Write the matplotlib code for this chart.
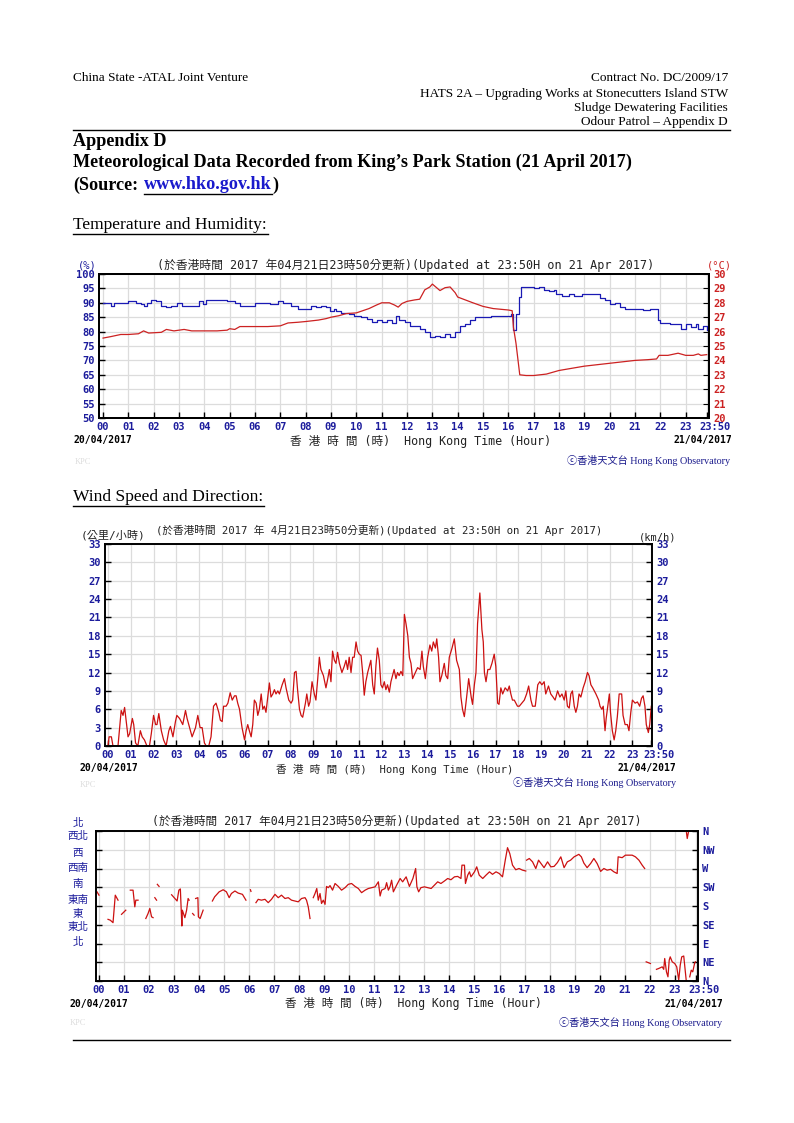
import numpy as np
import matplotlib
matplotlib.use("Agg")
import matplotlib.pyplot as plt
from matplotlib.lines import Line2D

nan = np.nan

# ---- data ----
# humidity (%), left axis of chart 1
hum_t = [0.0, 0.3, 0.45, 0.6, 1.0, 1.3, 1.5, 1.6, 1.75, 1.9, 2.1, 2.3, 2.5, 2.7, 2.9, 3.1, 3.5, 3.8, 3.95, 4.05,
         4.5, 4.9, 5.2, 5.4, 5.8, 6.0, 6.3, 6.6, 6.9, 7.1, 7.4, 7.7, 8.0, 8.2, 8.4, 8.6, 8.8, 8.95, 9.1, 9.2,
         9.4, 9.7, 9.9, 10.2, 10.4, 10.6, 10.8, 11.0, 11.2, 11.4, 11.55, 11.7, 11.9, 12.1, 12.3, 12.5, 12.7, 12.9, 13.1, 13.3,
         13.5, 13.7, 13.9, 14.1, 14.3, 14.5, 14.7, 15.0, 15.3, 15.6, 15.9, 16.1, 16.2, 16.3, 16.4, 16.5, 16.8, 17.0, 17.2, 17.4,
         17.6, 17.8, 17.9, 18.1, 18.4, 18.6, 18.9, 19.2, 19.4, 19.6, 19.8, 20.0, 20.2, 20.4, 20.6, 20.9, 21.1, 21.3, 21.6, 21.8,
         21.9, 22.0, 22.2, 22.4, 22.6, 22.8, 23.0, 23.2, 23.4, 23.5, 23.7, 23.83]
hum = [90, 89, 90, 90, 90.5, 90, 89.5, 89, 90, 91, 90.5, 89, 88.5, 89, 90, 89, 89, 90.5, 89.5, 91,
       91, 90.5, 90, 89, 89, 90, 90, 89.5, 90.5, 90, 89, 88, 88, 89, 88.5, 89, 88.5, 87, 88, 87,
       86.5, 86, 85.5, 85, 84.5, 83.5, 84, 83.5, 84, 83, 85.5, 84, 83.5, 82, 82, 81, 80, 78, 78.5, 78,
       79, 78, 80, 82, 82.5, 84, 85, 85, 85.5, 85.5, 85.5, 86, 80.5, 86, 92, 95.5, 95.5, 95, 95.5, 94.5,
       94, 94.5, 93, 92.5, 93, 92.5, 93, 93, 93, 91.5, 91, 89.5, 90, 88.5, 88, 88, 88, 87.5, 88, 88,
       84, 83, 83, 82.5, 82.5, 81, 82.5, 81.5, 82.5, 81, 82, 80.5]

# temperature (deg C), right axis of chart 1
temp_t = [0.0, 0.3, 0.7, 1.0, 1.4, 1.6, 1.8, 2.3, 2.5, 2.8, 3.2, 3.5, 4.0, 4.5, 4.9, 5.0, 5.2, 5.4, 6.0, 6.5,
          7.0, 7.3, 7.7, 8.0, 8.5, 8.8, 9.0, 9.3, 9.6, 10.0, 10.5, 10.8, 11.0, 11.3, 11.5, 11.65, 11.8, 12.0, 12.3, 12.5,
          12.7, 12.9, 13.0, 13.2, 13.3, 13.5, 13.7, 13.9, 14.0, 14.3, 14.6, 15.0, 15.4, 15.7, 16.0, 16.15, 16.2, 16.3, 16.45, 16.7,
          17.0, 17.5, 18.0, 18.5, 19.0, 19.5, 20.0, 20.5, 21.0, 21.5, 21.85, 21.95, 22.3, 22.7, 23.0, 23.3, 23.5, 23.6, 23.83]
temp = [25.55, 25.65, 25.8, 25.8, 25.85, 26.05, 25.9, 25.95, 26.15, 26.05, 26.15, 26.05, 26.05, 26.05, 26.1, 26.2, 26.15, 26.35, 26.35, 26.35,
        26.4, 26.6, 26.65, 26.7, 26.8, 26.9, 27.0, 27.1, 27.25, 27.3, 27.6, 27.85, 28.0, 28.0, 27.85, 27.7, 27.95, 28.1, 28.2, 28.25,
        28.9, 29.1, 29.3, 29.0, 28.85, 29.05, 29.1, 28.7, 28.4, 28.2, 28.0, 27.75, 27.6, 27.55, 27.5, 27.45, 26.3, 25.2, 23.0, 22.95,
        22.95, 23.05, 23.3, 23.45, 23.6, 23.7, 23.8, 23.9, 24.0, 24.05, 24.1, 24.35, 24.35, 24.5, 24.35, 24.35, 24.45, 24.35, 24.4]

# wind speed (km/h)
ws_t = [0.0, 0.05, 0.15, 0.22, 0.44, 0.51, 0.58, 0.66, 0.73, 0.8, 0.88, 0.95, 1.07, 1.13, 1.21, 1.31, 1.42, 1.5, 1.6, 1.71,
        1.82, 1.9, 2.0, 2.09, 2.15, 2.23, 2.34, 2.44, 2.55, 2.67, 2.74, 2.85, 2.96, 3.02, 3.14, 3.21, 3.28, 3.4, 3.47, 3.58,
        3.69, 3.84, 3.94, 4.04, 4.13, 4.23, 4.31, 4.42, 4.52, 4.63, 4.74, 4.86, 4.93, 5.01, 5.07, 5.18, 5.26, 5.36, 5.45, 5.55,
        5.62, 5.69, 5.77, 5.88, 5.99, 6.06, 6.13, 6.2, 6.28, 6.35, 6.42, 6.5, 6.57, 6.64, 6.72, 6.79, 6.86, 6.93, 7.01, 7.08,
        7.15, 7.23, 7.3, 7.37, 7.45, 7.52, 7.64, 7.74, 7.81, 7.93, 8.03, 8.1, 8.18, 8.25, 8.32, 8.4, 8.47, 8.54, 8.66, 8.72,
        8.8, 8.86, 8.95, 9.05, 9.12, 9.2, 9.27, 9.34, 9.45, 9.56, 9.64, 9.71, 9.78, 9.85, 9.93, 10.0, 10.07, 10.15, 10.26, 10.36,
        10.44, 10.51, 10.58, 10.66, 10.73, 10.8, 10.88, 10.95, 11.02, 11.1, 11.17, 11.24, 11.31, 11.39, 11.46, 11.53, 11.61, 11.68, 11.75, 11.82,
        11.9, 11.97, 12.04, 12.12, 12.19, 12.26, 12.34, 12.41, 12.48, 12.55, 12.63, 12.7, 12.77, 12.85, 12.93, 13.0, 13.07, 13.15, 13.22, 13.29,
        13.36, 13.48, 13.58, 13.69, 13.77, 13.83, 13.92, 14.02, 14.12, 14.2, 14.27, 14.36, 14.42, 14.5, 14.56, 14.64, 14.75, 14.82, 14.9, 14.97,
        15.09, 15.19, 15.29, 15.41, 15.48, 15.55, 15.63, 15.7, 15.82, 15.93, 15.99, 16.07, 16.14, 16.21, 16.31, 16.4, 16.46, 16.51, 16.58, 16.66,
        16.75, 16.84, 16.94, 17.01, 17.09, 17.15, 17.23, 17.31, 17.42, 17.53, 17.6, 17.67, 17.74, 17.82, 17.96, 18.04, 18.15, 18.26, 18.36, 18.45,
        18.55, 18.62, 18.74, 18.85, 18.94, 19.03, 19.13, 19.2, 19.32, 19.42, 19.52, 19.61, 19.72, 19.82, 19.91, 20.01, 20.08, 20.15, 20.23, 20.3,
        20.37, 20.45, 20.52, 20.59, 20.66, 20.74, 20.84, 20.93, 21.03, 21.1, 21.18, 21.26, 21.4, 21.52, 21.58, 21.66, 21.72, 21.8, 21.85, 21.99,
        22.04, 22.12, 22.2, 22.27, 22.34, 22.42, 22.53, 22.59, 22.68, 22.78, 22.85, 22.93, 23.0, 23.12, 23.22, 23.32, 23.4, 23.47, 23.55, 23.61,
        23.7, 23.76, 23.83]
ws = [0, 1.5, 1.5, 0, 0, 3, 5.8, 5, 6.3, 4, 1.5, 2, 4.5, 3.5, 0.5, 0, 2.5, 1.5, 1, 0,
      0, 2, 5, 3.5, 3.5, 5.3, 2.5, 1, 0, 2.5, 3.2, 1.5, 4, 5, 4.5, 4, 3.5, 5.8, 4.5, 3,
      1.5, 3, 5, 3, 3, 0.5, 0, 0, 1.5, 6.5, 7, 5.5, 4.2, 4, 6.5, 6.5, 7, 8.7, 7.5, 8.2,
      8.2, 7, 6, 3, 1, 2.5, 3.5, 2.5, 1.5, 3.5, 7.5, 7, 5, 6, 8.5, 6, 6.5, 5.5, 8, 10.3,
      8, 8.5, 9.2, 8.5, 9, 8.5, 10, 11, 9.5, 7.5, 7, 7.5, 12, 12.2, 9, 6, 5, 4.7, 7, 8.5,
      6.5, 7.2, 10.5, 8.5, 7.5, 11, 14.5, 12.5, 11.5, 9.5, 11, 12.5, 10.5, 15.5, 14, 13.5, 15.3, 13.5, 12, 13,
      14, 12.5, 14.5, 12, 14.5, 14.5, 17, 15.5, 15, 14.8, 12, 8.3, 10.5, 12, 13, 14, 10, 8.5, 13, 16,
      14, 10, 9.5, 10.5, 9.2, 10, 8.8, 10.5, 11.5, 12.5, 11, 12, 11.5, 12.2, 11.5, 21.5, 20, 18, 14.5, 13.5,
      11, 12, 12.8, 12.5, 15.5, 13, 11, 14.5, 16.5, 15.5, 17, 16, 17.5, 14.5, 10.5, 11.5, 13.5, 11.5, 11, 14.5,
      16, 17.5, 14, 12.5, 8, 6, 4.8, 7, 11, 8, 6.8, 10, 12, 20, 25, 19, 17, 12, 10.5, 12.5,
      12.5, 13.5, 15, 13, 7, 6.8, 9.5, 8.5, 9.5, 9, 9.8, 8.5, 7.5, 7.5, 6.5, 6.5, 7, 7.5, 8.5, 9.8,
      7.5, 6.5, 6.5, 10, 10.5, 10, 10.5, 8.5, 9.8, 8.5, 8, 7.5, 9, 8, 8.5, 7.5, 9, 6.5, 6.2, 8.5,
      9, 6.5, 5.5, 6.5, 8.5, 8, 9.5, 10.5, 12, 11.5, 10, 9.5, 8.5, 7.5, 6.5, 6, 6.5, 2.5, 4.5, 8.5,
      5.5, 2.5, 1, 2.5, 4.8, 8.5, 8.5, 5, 3.5, 3.5, 2.5, 5.5, 7.5, 7, 7.2, 6.5, 7.8, 8.2, 6.5, 3.5,
      2.2, 3.5, 6.5]

# wind direction (degrees, 0 = N at bottom), nan = gap in the record
wd_t = [-0.08, 0.0, nan, 0.36, 0.45, 0.56, 0.6, 0.65, 0.72, 0.76, nan, 0.9, 1.07, nan,
        1.25, 1.36, 1.43, 1.47, 1.56, nan, 1.87, 1.96, 2.03, 2.1, 2.16, nan, 2.23, 2.3, nan, 2.33, 2.4, nan,
        2.9, 3.03, 3.12, 3.19, 3.25, 3.31, 3.33, 3.43, 3.5, 3.56, 3.6, nan, 3.74, 3.8, nan,
        3.86, 3.95, 3.97, 4.04, 4.16, nan,
        4.53, 4.62, 4.8, 4.96, 5.09, 5.2, 5.29, 5.43, 5.56, 5.73, 5.83, 5.87, nan, 6.05, 6.07, nan,
        6.27, 6.36, 6.49, 6.63, 6.76, 6.89, 7.03, 7.16, 7.29, 7.43, 7.56, 7.69, 7.83, 7.96, 8.09, 8.23, 8.29, 8.36, 8.43, nan,
        8.56, 8.63, 8.7, 8.76, 8.83, 8.89, 8.96, 9.03, 9.09, 9.16, 9.23, 9.33, 9.43, 9.56, 9.69, 9.83, 9.96, 10.09, 10.23, 10.36,
        10.49, 10.63, 10.76, 10.89, 11.03, 11.16, 11.23, 11.29, 11.43, 11.49, 11.56, 11.63, 11.69, 11.76, 11.89,
        12.03, 12.13, 12.27, 12.4, 12.54, 12.65, 12.7, 12.77, 12.86, 13.0, 13.13, 13.27, 13.4, 13.53, 13.66, 13.8, 13.93, 14.06, 14.2, 14.33,
        14.46, 14.5, 14.6, 14.64, 14.73, 14.8, 14.86, 15.0, 15.09, 15.19, 15.33, 15.46, 15.6, 15.72, 15.86, 15.99, 16.12, 16.23, 16.32, 16.41,
        16.52, 16.65, 16.78, 16.92, 17.05, nan,
        17.08, 17.19, 17.32, 17.45, 17.56, 17.66, 17.78, 17.92, 18.05, 18.18, 18.31, 18.45, 18.58, 18.71, 18.84, 18.98, 19.17, 19.27, 19.37, 19.5,
        19.64, 19.77, 19.9, 20.04, 20.17, 20.3, 20.44, 20.57, 20.7, 20.74, 20.9, 21.03, 21.17, 21.3, 21.43, 21.57, 21.7, 21.8, nan,
        21.86, 22.03, nan,
        22.27, 22.36, 22.5, 22.56, 22.6, 22.67, 22.73, 22.78, 22.82, 22.9, 23.0, 23.08, 23.16, 23.22, 23.28, 23.36, 23.42, 23.46, nan,
        23.47, 23.5, 23.55, nan, 23.6, 23.66, 23.72, 23.8, 23.83]
wd = [214, 206, nan, 148, 146, 140, 170, 206, 198, 194, nan, 160, 170, nan,
      218, 218, 178, 194, 194, nan, 150, 162, 174, 154, 152, nan, 200, 194, nan, 232, 227, nan,
      207, 198, 192, 218, 221, 132, 170, 152, 170, 198, 194, nan, 162, 158, nan,
      198, 200, 154, 150, 170, nan,
      192, 202, 214, 219, 214, 200, 210, 216, 211, 208, 198, 194, nan, 219, 215, nan,
      188, 196, 194, 196, 188, 196, 208, 200, 206, 198, 200, 194, 192, 190, 198, 200, 194, 178, 150, nan,
      200, 210, 222, 194, 210, 186, 194, 184, 227, 224, 229, 218, 234, 227, 218, 224, 232, 234, 227, 222,
      212, 218, 222, 224, 226, 238, 204, 218, 222, 236, 218, 227, 242, 214, 230,
      246, 238, 250, 227, 246, 270, 226, 214, 224, 226, 224, 222, 230, 238, 234, 240, 246, 243, 250, 251,
      246, 278, 278, 234, 254, 262, 250, 262, 274, 254, 246, 254, 262, 256, 262, 258, 250, 290, 320, 306,
      278, 267, 270, 266, 264, nan,
      290, 294, 286, 270, 290, 282, 272, 286, 274, 275, 284, 298, 272, 286, 290, 298, 304, 298, 283, 272,
      282, 294, 282, 263, 270, 266, 268, 262, 258, 298, 296, 302, 302, 302, 298, 290, 278, 270, nan,
      46, 42, nan,
      28, 30, 34, 28, 54, 22, 10, 50, 58, 46, 42, 34, 2, 38, 58, 60, 26, 1, nan,
      356, 342, 358, nan, 10, 26, 22, 44, 46]

hour_labels = ["%02d" % h for h in range(24)] + ["23:50"]
hour_ticks = list(range(24)) + [23 + 50 / 60]
dir_labels = ["N", "NE", "E", "SE", "S", "SW", "W", "NW", "N"]
dir_labels_zh = ["北", "西北", "西", "西南", "南", "東南", "東", "東北", "北"]

title_txt = "(於香港時間 2017 年04月21日23時50分更新)(Updated at 23:50H on 21 Apr 2017)"
title_txt2 = "(於香港時間 2017 年 4月21日23時50分更新)(Updated at 23:50H on 21 Apr 2017)"
xlabel_txt = "香 港 時 間 (時)  Hong Kong Time (Hour)"
copy_txt = "ⓒ香港天文台 Hong Kong Observatory"

W, H = 794, 1123
fig = plt.figure(figsize=(W / 100, H / 100), dpi=100)
fig.patch.set_facecolor("white")

SERIF = ["Liberation Serif", "Noto Sans CJK TC"]
MONO = ["DejaVu Sans Mono", "Noto Sans CJK TC"]
BLUE = "#1c1c9c"
RED = "#cc2222"
GRID = "#dcdcdc"


def px(x, y):
    return x / W, 1 - y / H


def put(x, y, s, **kw):
    fig.text(*px(x, y), s, **kw)


def axes_px(l, t, r, b):
    return fig.add_axes([l / W, 1 - b / H, (r - l) / W, (b - t) / H])


def hline(y, x0=73, x1=730):
    fig.add_artist(Line2D([x0 / W, x1 / W], [1 - y / H, 1 - y / H], color="black", lw=1.0))


# ---- page header ----
put(73, 78, "China State -ATAL Joint Venture", family=SERIF, size=9.5, va="center")
put(728, 78, "Contract No. DC/2009/17", family=SERIF, size=9.5, va="center", ha="right")
put(728, 94, "HATS 2A – Upgrading Works at Stonecutters Island STW", family=SERIF, size=9.5, va="center", ha="right")
put(728, 108, "Sludge Dewatering Facilities", family=SERIF, size=9.5, va="center", ha="right")
put(728, 122, "Odour Patrol – Appendix D", family=SERIF, size=9.5, va="center", ha="right")
hline(130)
put(73, 141, "Appendix D", family=SERIF, size=13.1, weight="bold", va="center")
put(73, 162, "Meteorological Data Recorded from King’s Park Station (21 April 2017)", family=SERIF, size=13.1,
    weight="bold", va="center")
put(73, 185, "(Source:", family=SERIF, size=13.1, weight="bold", va="center")
put(144, 185, "www.hko.gov.hk", family=SERIF, size=13.1, weight="bold", va="center", color="#1a1acc")
hline(194, 144, 272)
put(272, 185, ")", family=SERIF, size=13.1, weight="bold", va="center")
put(73, 225, "Temperature and Humidity:", family=SERIF, size=12.6, va="center")
hline(234, 73, 268)
put(73, 497, "Wind Speed and Direction:", family=SERIF, size=12.6, va="center")
hline(506, 73, 264)
hline(1040)


def style_axes(ax, x0, x1):
    ax.set_xlim(x0, x1)
    ax.grid(True, color=GRID, lw=0.9)
    ax.set_axisbelow(True)
    for s in ax.spines.values():
        s.set_linewidth(1.4)
        s.set_color("black")
    ax.set_xticks(hour_ticks)
    ax.set_xticklabels([])
    ax.tick_params(axis="both", direction="in", length=4, width=1, colors="black")
    ax.tick_params(axis="x", which="both", top=False)
    for h, lab in zip(hour_ticks, hour_labels):
        dx = 8 if lab == "23:50" else 0
        ax.annotate(lab, xy=(h, 0), xycoords=("data", "axes fraction"), xytext=(dx * 0.72, -3),
                    textcoords="offset points", ha="center", va="top", family=MONO, size=7.5,
                    weight="bold", color=BLUE)


# ---- chart 1: temperature and humidity ----
ax1 = axes_px(99, 274, 709, 418)
style_axes(ax1, -0.16, 23.92)
ax1.set_ylim(50, 100)
ax1.set_yticks(range(50, 101, 5))
ax1.tick_params(axis="y", labelsize=7.5, labelcolor=BLUE, pad=3)
for lab in ax1.get_yticklabels():
    lab.set_family(MONO)
    lab.set_weight("bold")
ax1.plot(hum_t, hum, color="#1a1ab4", lw=0.9, drawstyle="steps-post")
ax1b = ax1.twinx()
ax1b.set_ylim(20, 30)
ax1b.set_yticks(range(20, 31))
ax1b.tick_params(axis="y", direction="in", length=4, labelsize=7.5, labelcolor=RED, pad=3)
for lab in ax1b.get_yticklabels():
    lab.set_family(MONO)
    lab.set_weight("bold")
ax1b.plot(temp_t, temp, color=RED, lw=0.9)
for s in ax1b.spines.values():
    s.set_linewidth(1.4)

put(406, 265, title_txt, family=MONO, size=8.5, ha="center", va="center", color="#222222")
put(87, 265, "(%)", family=MONO, size=7.5, ha="center", va="center", color=BLUE)
put(719, 265, "(°C)", family=MONO, size=7.5, ha="center", va="center", color=RED)
put(74, 440, "20/04/2017", family=MONO, size=7, weight="bold", va="center")
put(732, 440, "21/04/2017", family=MONO, size=7, weight="bold", va="center", ha="right")
put(421, 441, xlabel_txt, family=MONO, size=8.4, ha="center", va="center", color="#222222")
put(75, 462, "KPC", family=SERIF, size=6, va="center", color="#dddddd")
put(730, 460, copy_txt, family=SERIF, size=7.3, ha="right", va="center", color="#1a1a8c")

# ---- chart 2: wind speed ----
ax2 = axes_px(105, 544, 652, 746)
style_axes(ax2, -0.13, 23.86)
ax2.set_ylim(0, 33)
ax2.set_yticks(range(0, 34, 3))
ax2.tick_params(axis="y", labelsize=7.5, labelcolor=BLUE, pad=3, right=True, labelright=True)
for t in ax2.yaxis.get_major_ticks():
    for lab in (t.label1, t.label2):
        lab.set_family(MONO)
        lab.set_weight("bold")
ax2.plot(ws_t, ws, color="#cc1111", lw=0.9)

put(379, 530, title_txt2, family=MONO, size=7.7, ha="center", va="center", color="#222222")
put(113, 535, "(公里/小時)", family=MONO, size=8, ha="center", va="center", color="#222222")
put(658, 537, "(km/h)", family=MONO, size=7.5, ha="center", va="center", color="#222222")
put(80, 768, "20/04/2017", family=MONO, size=7, weight="bold", va="center")
put(676, 768, "21/04/2017", family=MONO, size=7, weight="bold", va="center", ha="right")
put(395, 769, xlabel_txt, family=MONO, size=7.6, ha="center", va="center", color="#222222")
put(80, 785, "KPC", family=SERIF, size=6, va="center", color="#dddddd")
put(676, 783, copy_txt, family=SERIF, size=7.3, ha="right", va="center", color="#1a1a8c")

# ---- chart 3: wind direction ----
ax3 = axes_px(96, 831, 698, 981)
style_axes(ax3, -0.12, 23.93)
ax3.set_ylim(0, 360)
ax3.set_yticks(range(0, 361, 45))
ax3.set_yticklabels(dir_labels)
ax3.tick_params(axis="y", labelsize=7.5, labelcolor=BLUE, pad=3, right=True, labelright=True, labelleft=False)
for t in ax3.yaxis.get_major_ticks():
    t.label2.set_family(MONO)
    t.label2.set_weight("bold")
    t.label2.set_ha("left")
ax3.plot(wd_t, wd, color="#cc1111", lw=0.9)

zh_y = [823, 836, 853, 868, 884, 900, 914, 927, 942]
for y, lab in zip(zh_y, dir_labels_zh):
    put(78, y, lab, family="Noto Sans CJK TC", size=7.6, ha="center", va="center", color=BLUE)

put(397, 821, title_txt, family=MONO, size=8.4, ha="center", va="center", color="#222222")
put(70, 1004, "20/04/2017", family=MONO, size=7, weight="bold", va="center")
put(723, 1004, "21/04/2017", family=MONO, size=7, weight="bold", va="center", ha="right")
put(413, 1004, xlabel_txt, family=MONO, size=8.3, ha="center", va="center", color="#222222")
put(70, 1023, "KPC", family=SERIF, size=6, va="center", color="#dddddd")
put(722, 1022, copy_txt, family=SERIF, size=7.3, ha="right", va="center", color="#1a1a8c")

fig.savefig("out.png", dpi=100, facecolor="white")
